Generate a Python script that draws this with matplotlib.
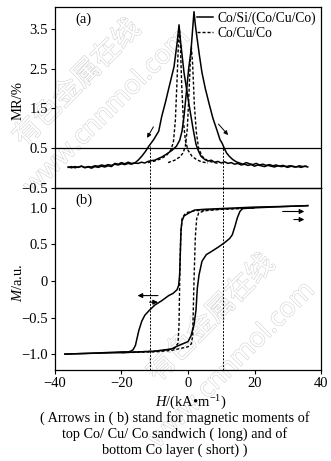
import numpy as np
import matplotlib
matplotlib.use('Agg')
import matplotlib.pyplot as plt
import matplotlib.patheffects as pe

# 字体：英文用 Times 风格，水印中文用 Noto Sans CJK
plt.rcParams['font.family'] = ['Liberation Serif', 'DejaVu Serif']
plt.rcParams['mathtext.fontset'] = 'custom'
plt.rcParams['mathtext.rm'] = 'Liberation Serif'
plt.rcParams['mathtext.it'] = 'Liberation Serif:italic'

# ---------------- (a) 磁电阻 MR-H ----------------
# Co/Si/(Co/Cu/Co)，峰在负场一侧的分支
mr_h1 = [-36, -35, -34, -33, -32, -31, -30, -29, -28, -27, -26, -25, -24, -23,
         -22, -21, -20, -19, -18, -17, -16,
         -15, -13.9, -12.8, -11.8, -10.3, -8.8, -7.9, -6.8, -5.8, -4.2, -3.2, -2.7,
         -2.2, -1.2, 0.3, 1.5, 2.4, 3.2, 3.9,
         5, 6, 7, 8, 9, 10, 11, 12, 13, 14, 15, 16, 17, 18, 19, 20, 21, 22, 23, 24,
         25, 26, 27, 28, 29, 30, 31, 32, 33, 34, 35, 36]
mr_v1 = [0.03, 0.01, 0.04, 0.02, 0.05, 0.01, 0.03, 0.00, 0.04, 0.02, 0.05, 0.03, 0.06, 0.04,
         0.12, 0.10, 0.14, 0.11, 0.15, 0.12, 0.13,
         0.2, 0.3, 0.42, 0.55, 0.72, 0.93, 1.3, 1.65, 2.0, 2.55, 3.2, 3.6,
         3.15, 2.4, 1.6, 1.0, 0.6, 0.42, 0.3,
         0.22, 0.18, 0.2, 0.15, 0.17, 0.13, 0.16, 0.12, 0.14, 0.1, 0.12, 0.08, 0.1, 0.07,
         0.09, 0.05, 0.08, 0.06, 0.04, 0.07, 0.05, 0.03, 0.06, 0.04, 0.05, 0.02, 0.05, 0.03,
         0.04, 0.02, 0.05, 0.03]
# Co/Si/(Co/Cu/Co)，峰在正场一侧的分支
mr_h2 = [-36, -35, -34, -33, -32, -31, -30, -29, -28, -27, -26, -25, -24, -23, -22, -21,
         -20, -19, -18, -17, -16,
         -15, -14, -13, -12, -11, -10, -9, -7.9, -6.5, -4.8, -3.5, -2.5, -1.8, -1.2, -0.5,
         0.2, 0.9, 1.4, 1.8, 2.2, 2.7, 3.4, 4.2, 5.2, 6.4, 7.5, 8.8, 9.6, 10.3, 10.9, 11.6,
         12.4, 13.4, 14.5,
         15.5, 16.5, 17.5, 18.5, 19.5, 20.5, 21.5, 22.5, 23.5, 24.5, 25.5, 26.5, 27.5, 28.5,
         29.5, 30.5, 31.5, 32.5, 33.5, 34.5, 35.5]
mr_v2 = [0.02, 0.04, 0.01, 0.03, 0.05, 0.02, 0.04, 0.03, 0.06, 0.05, 0.08, 0.06, 0.09, 0.07,
         0.1, 0.08, 0.11, 0.09, 0.12, 0.1, 0.13,
         0.12, 0.15, 0.13, 0.17, 0.19, 0.2, 0.24, 0.28, 0.35, 0.45, 0.55, 0.7, 0.93, 1.3, 1.9,
         2.5, 2.95, 3.5, 3.93, 3.6, 3.28, 2.85, 2.4, 2.0, 1.6, 1.25, 0.93, 0.72, 0.62, 0.5, 0.38,
         0.3, 0.22, 0.16,
         0.13, 0.1, 0.14, 0.11, 0.09, 0.12, 0.08, 0.1, 0.07, 0.09, 0.06, 0.08, 0.05, 0.07,
         0.04, 0.06, 0.05, 0.03, 0.06, 0.04, 0.05]
# Co/Cu/Co 两个分支
mr_h3 = [-12, -10, -8, -6.5, -5.2, -4.4, -3.8, -3.3, -2.9, -2.6, -2.3, -1.9, -1.4, -0.8, 0,
         1.2, 2.5, 4, 6]
mr_v3 = [0.14, 0.18, 0.24, 0.32, 0.45, 0.65, 1.2, 2.2, 3.1, 3.5, 3.1, 2.1, 1.2, 0.7, 0.45,
         0.3, 0.22, 0.16, 0.13]
mr_h4 = [-6, -4, -2.5, -1.5, -0.8, -0.2, 0.3, 0.7, 1.0, 1.4, 1.9, 2.5, 3.2, 4.2, 6, 9]
mr_v4 = [0.14, 0.2, 0.28, 0.38, 0.55, 1.0, 1.9, 2.7, 3.05, 2.6, 1.6, 0.9, 0.5, 0.3, 0.18, 0.12]

# ---------------- (b) 磁滞回线 M-H ----------------
m_h_down = [36, 30, 20, 15, 10, 5, 2, 0.3, -1.2, -1.8, -2.1, -2.3, -2.5, -2.8, -3.3, -4.5,
            -5.8, -7.9, -10, -11.8, -13.0, -13.9, -14.8, -15.8, -16.5, -17.2, -18, -20, -25,
            -30, -37]
m_v_down = [1.03, 1.02, 1.01, 1.0, 0.99, 0.98, 0.97, 0.93, 0.89, 0.82, 0.7, 0.4, 0.1, -0.06,
            -0.12, -0.17, -0.2, -0.27, -0.33, -0.41, -0.47, -0.55, -0.68, -0.88, -0.94, -0.96,
            -0.97, -0.97, -0.98, -0.99, -1.0]
m_h_up = [-37, -30, -20, -10, -5, -2.7, 0, 0.9, 1.8, 2.4, 2.8, 3.3, 4.2, 5.5, 7.3, 9, 10.9,
          12.5, 13.3, 14.2, 14.8, 15.6, 16.4, 20, 25, 30, 36]
m_v_up = [-1.0, -0.99, -0.98, -0.96, -0.93, -0.88, -0.83, -0.75, -0.6, -0.4, -0.1, 0.08,
          0.27, 0.36, 0.41, 0.46, 0.52, 0.58, 0.63, 0.76, 0.86, 0.95, 0.99, 1.0, 1.01, 1.02,
          1.03]
m_h_down2 = [20, 10, 5, 2, 0, -1.0, -1.8, -2.2, -2.5, -2.7, -3.0, -4, -6, -10, -20]
m_v_down2 = [1.0, 0.98, 0.97, 0.96, 0.94, 0.91, 0.85, 0.6, 0.0, -0.6, -0.85, -0.92, -0.94,
             -0.96, -0.98]
m_h_up2 = [-20, -10, -5, -2, 0, 1.0, 1.4, 1.8, 2.2, 2.6, 3.2, 5, 10, 20]
m_v_up2 = [-0.98, -0.97, -0.95, -0.92, -0.9, -0.86, -0.75, 0.0, 0.6, 0.85, 0.93, 0.96, 0.98,
           1.0]

# 坐标刻度
x_ticks = [-40, -20, 0, 20, 40]
x_labels = ['\u221240', '\u221220', '0', '20', '40']
a_ticks = [3.5, 2.5, 1.5, 0.5, -0.5]
a_labels = ['3.5', '2.5', '1.5', '0.5', '\u22120.5']
b_ticks = [1.0, 0.5, 0, -0.5, -1.0]
b_labels = ['1.0', '0.5', '0', '\u22120.5', '\u22121.0']
# 两条竖直虚线所在磁场
h_marks = [-11.4, 10.6]

fig = plt.figure(figsize=(3.31, 4.61), dpi=100)
ax_a = fig.add_axes([0.166, 0.592, 0.804, 0.393])
ax_b = fig.add_axes([0.166, 0.197, 0.804, 0.395])

dash = (0, (2.2, 1.4))
vdash = (0, (2.0, 1.5))
for ax in (ax_a, ax_b):
    ax.patch.set_alpha(0)
    for s in ax.spines.values():
        s.set_linewidth(0.9)
    ax.set_xlim(-40, 40)
    ax.tick_params(direction='out', length=3, width=0.8, labelsize=10.5, pad=2,
                   top=False, right=False)

# (a)
ax_a.plot(mr_h1, mr_v1, color='k', lw=1.1, label='Co/Si/(Co/Cu/Co)')
ax_a.plot(mr_h2, mr_v2, color='k', lw=1.1)
ax_a.plot(mr_h3, mr_v3, color='k', lw=1.0, ls=dash, label='Co/Cu/Co')
ax_a.plot(mr_h4, mr_v4, color='k', lw=1.0, ls=dash)
ax_a.axhline(0.5, color='k', lw=0.9)
for h in h_marks:
    ax_a.plot([h, h], [-0.5, 0.55], color='k', lw=0.7, ls=vdash)
ax_a.set_ylim(-0.5, 4.05)
ax_a.set_yticks(a_ticks)
ax_a.set_yticklabels(a_labels)
ax_a.set_xticks([])
ax_a.text(-34, 3.65, '(a)', fontsize=10.5)
ax_a.annotate('', xy=(-12.7, 0.7), xytext=(-10.0, 1.1),
              arrowprops=dict(arrowstyle='-|>', lw=0.7, color='k', mutation_scale=6))
ax_a.annotate('', xy=(12.6, 0.78), xytext=(8.6, 1.16),
              arrowprops=dict(arrowstyle='-|>', lw=0.7, color='k', mutation_scale=6))
ax_a.legend(loc='upper right', frameon=False, fontsize=9.8, handlelength=1.2,
            handletextpad=0.35, labelspacing=0.1, borderaxespad=0.1, borderpad=0.25)

# (b)
ax_b.plot(m_h_down, m_v_down, color='k', lw=1.1)
ax_b.plot(m_h_up, m_v_up, color='k', lw=1.1)
ax_b.plot(m_h_down2, m_v_down2, color='k', lw=1.0, ls=dash)
ax_b.plot(m_h_up2, m_v_up2, color='k', lw=1.0, ls=dash)
for h in h_marks:
    ax_b.axvline(h, color='k', lw=0.7, ls=vdash)
ax_b.set_ylim(-1.22, 1.27)
ax_b.set_yticks(b_ticks)
ax_b.set_yticklabels(b_labels)
ax_b.set_xticks(x_ticks)
ax_b.set_xticklabels(x_labels)
ax_b.text(-34, 1.05, '(b)', fontsize=10.5)
arw = dict(arrowstyle='-|>', lw=0.8, color='k', mutation_scale=7)
ax_b.annotate('', xy=(-16, -0.2), xytext=(-8.2, -0.2), arrowprops=arw)
ax_b.annotate('', xy=(-8.2, -0.29), xytext=(-12.4, -0.29), arrowprops=arw)
ax_b.annotate('', xy=(35.8, 0.95), xytext=(27.6, 0.95), arrowprops=arw)
ax_b.annotate('', xy=(35.8, 0.84), xytext=(31.0, 0.84), arrowprops=arw)

# 轴标题
fig.text(18 / 331, 1 - 100 / 461, 'MR/%', rotation=90, ha='center', va='center',
         fontsize=10.5)
fig.text(18 / 331, 1 - 283 / 461, '$M$/a.u.', rotation=90, ha='center', va='center',
         fontsize=10.5)
fig.text(191 / 331, 1 - 403 / 461, '$H$/(kA\u2022m$^{-1}$)', ha='center', va='center',
         fontsize=10.5)

# 图注
caption = ['( Arrows in ( b) stand for magnetic moments of',
           'top Co/ Cu/ Co sandwich ( long) and of',
           'bottom Co layer ( short) )']
for i, line in enumerate(caption):
    fig.text(175 / 331, 1 - (418 + 16 * i) / 461, line, ha='center', va='center',
             fontsize=10.3)

# 水印
wm = dict(rotation=45, ha='center', va='center', color='white', zorder=-1,
          path_effects=[pe.withStroke(linewidth=0.8, foreground='#d2d2d2')])
fig.text(77 / 331, 1 - 83 / 461, '有色金属在线', fontsize=20,
         family=['Noto Sans CJK SC'], **wm)
fig.text(107 / 331, 1 - 112 / 461, 'www.cnnmol.com', fontsize=19,
         family=['Noto Sans'], **wm)
fig.text(211 / 331, 1 - 318 / 461, '有色金属在线', fontsize=20,
         family=['Noto Sans CJK SC'], **wm)
fig.text(232 / 331, 1 - 365 / 461, 'www.cnnmol.com', fontsize=19,
         family=['Noto Sans'], **wm)

fig.savefig('out.png', dpi=100)
